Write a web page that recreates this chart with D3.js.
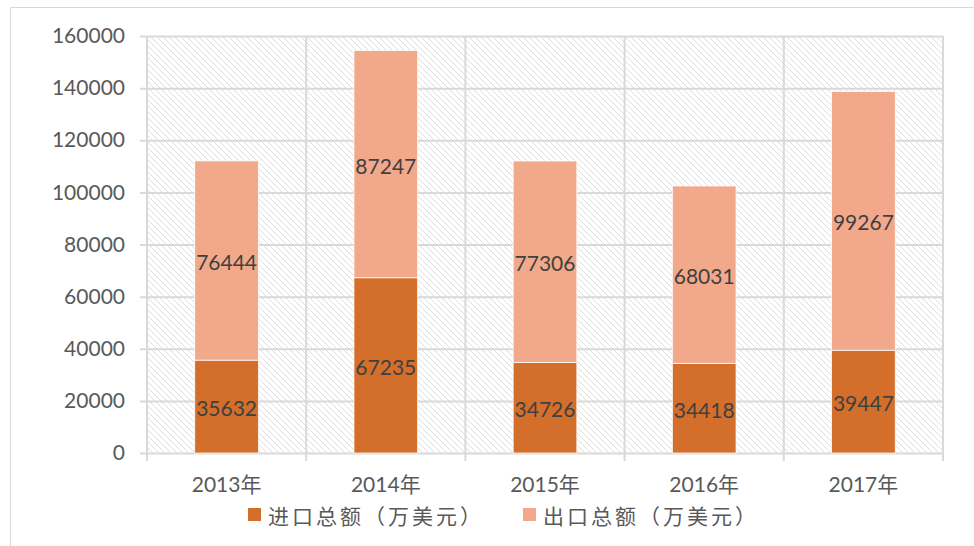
<!DOCTYPE html>
<html><head><meta charset="utf-8">
<script src="https://cdn.jsdelivr.net/npm/d3@7"></script>
<style>
html,body{margin:0;padding:0;background:#fff;}
svg{display:block;}
</style></head>
<body>
<svg id="chart" width="974" height="546"></svg>
<script>
const categories = ["2013年","2014年","2015年","2016年","2017年"];
const importValues = [35632, 67235, 34726, 34418, 39447];
const exportValues = [76444, 87247, 77306, 68031, 99267];
const seriesNames = ["进口总额（万美元）","出口总额（万美元）"];
const seriesColors = ["#D36E2B","#F2A98B"];
const yTicks = [0,20000,40000,60000,80000,100000,120000,140000,160000];

const svg = d3.select("#chart");
const W = 974, H = 546;
const m = {left:147, top:36, right:943, bottom:453};
const numFont = "Lato, 'Noto Sans', sans-serif";
const cjkFont = "Lato, 'Noto Sans CJK SC', sans-serif";

// frame
svg.append("rect").attr("x",10.5).attr("y",7.5).attr("width",W+10).attr("height",H+10)
  .attr("fill","#fff").attr("stroke","#d9d9d9").attr("stroke-width",1);

// pattern
const defs = svg.append("defs");
const pat = defs.append("pattern").attr("id","hatch").attr("patternUnits","userSpaceOnUse")
  .attr("width",6).attr("height",6);
pat.append("rect").attr("width",6).attr("height",6).attr("fill","#fff");
pat.append("path").attr("d","M-1,-1 L7,7 M-1,5 L1,7 M5,-1 L7,1").attr("stroke","#dedede").attr("stroke-width",1);

const x = d3.scaleBand().domain(categories).range([m.left,m.right]).paddingInner(0).paddingOuter(0);
const y = d3.scaleLinear().domain([0,160000]).range([m.bottom,m.top]);

svg.append("rect").attr("x",m.left).attr("y",m.top).attr("width",m.right-m.left).attr("height",m.bottom-m.top)
  .attr("fill","url(#hatch)");

// horizontal gridlines with left ticks
const gy = svg.append("g").attr("transform",`translate(${m.left},0)`)
  .call(d3.axisLeft(y).tickValues(yTicks).tickSize(-(m.right-m.left)).tickPadding(22).tickFormat(d3.format("d")));
gy.select(".domain").remove();
gy.selectAll(".tick line").attr("stroke","#d9d9d9").attr("stroke-width",2).attr("x2",m.right-m.left).attr("x1",-7);
gy.selectAll(".tick text").attr("fill","#595959").style("font-family",numFont).style("font-size","21px");

// vertical gridlines at category boundaries
const bounds = categories.map(c=>x(c)).concat([x(categories[categories.length-1])+x.bandwidth()]);
svg.append("g").selectAll("line").data(bounds).join("line")
  .attr("x1",d=>d).attr("x2",d=>d).attr("y1",m.top).attr("y2",m.bottom+8)
  .attr("stroke","#d9d9d9").attr("stroke-width",2);

// x labels
const gx = svg.append("g").attr("transform",`translate(0,${m.bottom})`)
  .call(d3.axisBottom(x).tickSize(0).tickPadding(24));
gx.select(".domain").remove();
gx.selectAll(".tick text").attr("fill","#595959").style("font-family",cjkFont).style("font-size","21px");

// bars
const bw = x.bandwidth()/2.5;
const data = categories.map((c,i)=>({c, a:importValues[i], b:exportValues[i]}));
const bars = svg.append("g");
bars.selectAll(".imp").data(data).join("rect")
  .attr("x",d=>x(d.c)+x.bandwidth()/2-bw/2).attr("width",bw)
  .attr("y",d=>y(d.a)).attr("height",d=>y(0)-y(d.a))
  .attr("fill",seriesColors[0]).attr("stroke","#fff").attr("stroke-width",0.75);
bars.selectAll(".exp").data(data).join("rect")
  .attr("x",d=>x(d.c)+x.bandwidth()/2-bw/2).attr("width",bw)
  .attr("y",d=>y(d.a+d.b)).attr("height",d=>y(d.a)-y(d.a+d.b))
  .attr("fill",seriesColors[1]).attr("stroke","#fff").attr("stroke-width",0.75);

// labels
const lab = svg.append("g").style("font-family",numFont).style("font-size","21px").attr("fill","#404040")
  .attr("text-anchor","middle").attr("dominant-baseline","central");
lab.selectAll(".la").data(data).join("text")
  .attr("x",d=>x(d.c)+x.bandwidth()/2).attr("y",d=>y(d.a/2)+1).text(d=>d.a);
lab.selectAll(".lb").data(data).join("text")
  .attr("x",d=>x(d.c)+x.bandwidth()/2).attr("y",d=>y(d.a+d.b/2)+1).text(d=>d.b);

// legend
const legX = [248, 523];
const leg = svg.append("g");
seriesNames.forEach((n,i)=>{
  leg.append("rect").attr("x",legX[i]).attr("y",508).attr("width",13).attr("height",13).attr("fill",seriesColors[i]);
  leg.append("text").attr("x",legX[i]+20).attr("y",515).attr("dominant-baseline","central")
    .attr("fill","#595959").style("font-family",cjkFont).style("font-size","21px").style("letter-spacing","3px").text(n);
});
</script>
</body></html>
